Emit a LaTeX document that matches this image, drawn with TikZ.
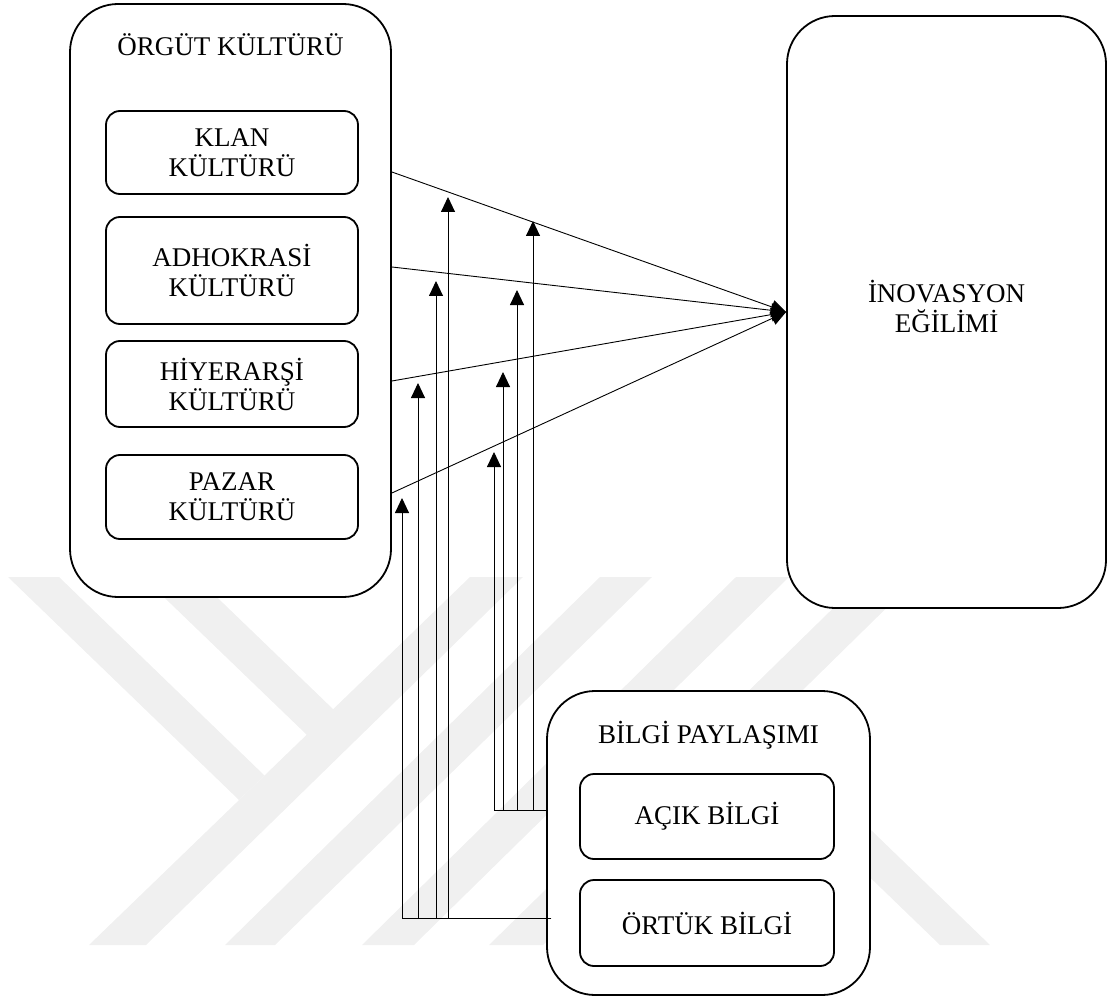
\documentclass[tikz,border=0pt]{standalone}
\usepackage{fontspec}
\setmainfont{Liberation Serif}
\usetikzlibrary{arrows.meta,calc}
\begin{document}
\begin{tikzpicture}[x=1pt,y=-1pt,
  every node/.style={font=\fontsize{27}{30}\selectfont, inner sep=0pt},
  bigbox/.style={draw, line width=1.8pt, rounded corners=48pt, fill=white},
  subbox/.style={draw, line width=1.8pt, rounded corners=14pt, fill=white,
                 align=center, minimum width=252pt},
  heading/.style={anchor=base},
  link/.style={line width=0.9pt},
  tip/.style={-{Triangle[length=15pt,width=14pt]}},
  wmband/.style={fill=black!6}]
\useasboundingbox (0,0) rectangle (1108,1000);

% faint background emblem
\fill[wmband] (8,577) -- (59,577) -- (264.5,775.5) -- (239,800) -- cycle;
\fill[wmband] (143,577) -- (196,577) -- (334,710) -- (307,735) -- cycle;
\fill[wmband] (470,577) -- (523,577) -- (146,945) -- (89,945) -- cycle;
\fill[wmband] (600,577) -- (652,577) -- (275,945) -- (225,945) -- cycle;
\fill[wmband] (736,577) -- (789,577) -- (414,945) -- (362,945) -- cycle;
\fill[wmband] (865,577) -- (918,577) -- (543,945) -- (489,945) -- cycle;
\fill[wmband] (741.5,753.3) -- (766.5,729.1) -- (990,945) -- (940,945) -- cycle;

% organisational culture
\node[bigbox, minimum width=321pt, minimum height=593pt] (org) at (230.5,300.5) {};
\node[heading] (orgtitle) at (230.5,56) {ÖRGÜT KÜLTÜRÜ};
\node[subbox, minimum height=83pt]  (klan) at (232,152.5) {KLAN\\KÜLTÜRÜ};
\node[subbox, minimum height=107pt] (adh)  at (232,270.5) {ADHOKRASİ\\KÜLTÜRÜ};
\node[subbox, minimum height=86pt]  (hiy)  at (232,384)   {HİYERARŞİ\\KÜLTÜRÜ};
\node[subbox, minimum height=84pt]  (paz)  at (232,497)   {PAZAR\\KÜLTÜRÜ};

% innovation tendency
\node[bigbox, minimum width=319pt, minimum height=592pt] (ino) at (946.5,312) {};
\node[align=center] (inotext) at (946.5,306) {İNOVASYON\\EĞİLİMİ};

% knowledge sharing
\node[bigbox, minimum width=323pt, minimum height=304pt] (bilgi) at (708.5,843) {};
\node[heading] (bilgititle) at (708.5,743) {BİLGİ PAYLAŞIMI};
\node[subbox, minimum width=254pt, minimum height=85pt] (acik)  at (707,816.5) {AÇIK BİLGİ};
\node[subbox, minimum width=254pt, minimum height=86pt] (ortuk) at (707,923)   {ÖRTÜK BİLGİ};

% direct effects on innovation tendency
\draw[link,tip] (org.east |- 0,172) -- (ino.west);
\draw[link,tip] (org.east |- 0,267) -- (ino.west);
\draw[link,tip] (org.east |- 0,381) -- (ino.west);
\draw[link,tip] (org.east |- 0,493) -- (ino.west);

% moderating paths: explicit knowledge
\coordinate (ta1) at (494,452);
\coordinate (ta2) at (503,372);
\coordinate (ta3) at (517,290);
\coordinate (ta4) at (533,221);
\foreach \t in {ta1,ta2,ta3,ta4}
  \draw[link,tip] (bilgi.west |- 0,810) -| (\t);

% moderating paths: tacit knowledge
\coordinate (tb1) at (402,498);
\coordinate (tb2) at (418,383);
\coordinate (tb3) at (436,281);
\coordinate (tb4) at (448,197);
\foreach \t in {tb1,tb2,tb3,tb4}
  \draw[link,tip] ($(bilgi.west |- 0,918)+(5,0)$) -| (\t);
\end{tikzpicture}
\end{document}
